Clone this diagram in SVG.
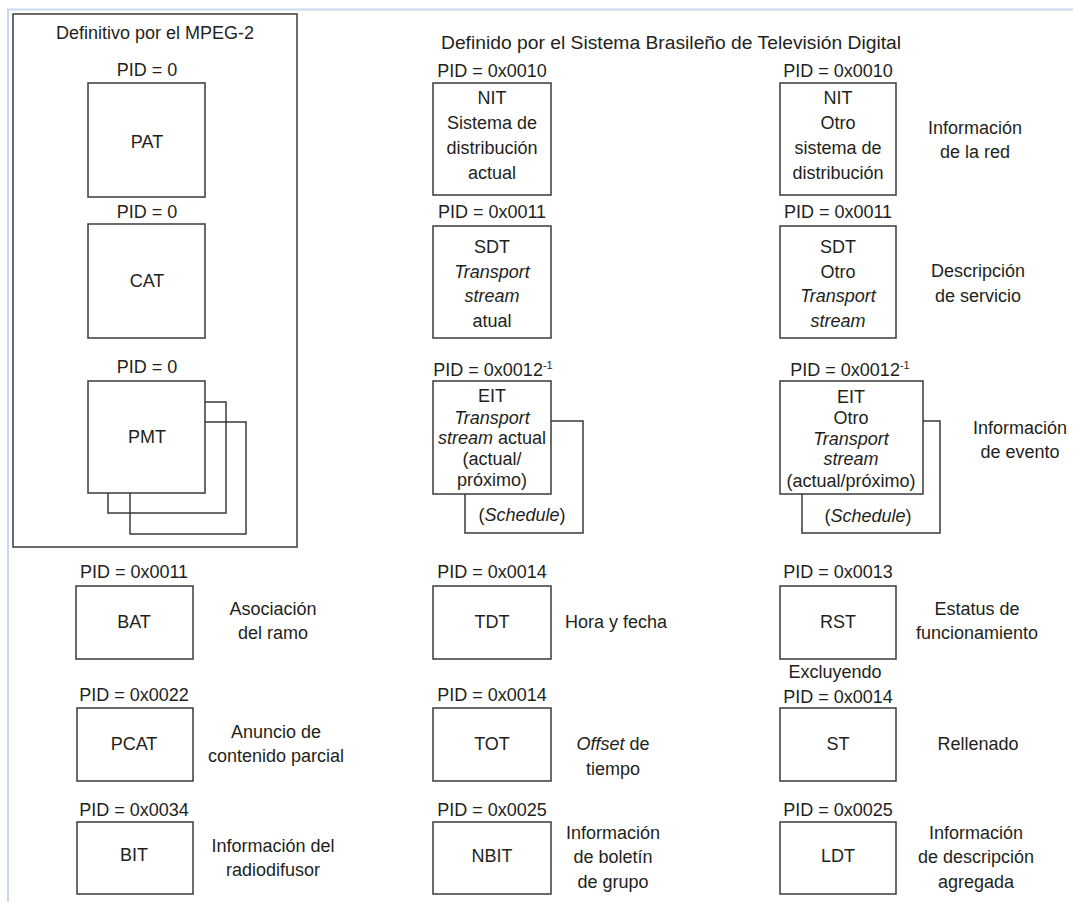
<svg xmlns="http://www.w3.org/2000/svg" width="1074" height="902" viewBox="0 0 1074 902">
  <style>
    .t { font-family: "Liberation Sans", Arial, sans-serif; font-size: 18px; fill: #231f20; text-anchor: middle; }
    .s { text-anchor: start; }
    .i { font-style: italic; }
    .sup { font-size: 11px; }
    .box { fill: #ffffff; stroke: #3a3a3a; stroke-width: 1.5; }
    .layer { fill: none; stroke: #3a3a3a; stroke-width: 1.5; }
    .frame { fill: none; stroke: #c6d9f0; stroke-width: 2; }
  </style>

  <rect width="1074" height="902" fill="#ffffff"/>
  <!-- page frame -->
  <path class="frame" d="M8,902 V9.5 H1073"/>

  <!-- MPEG-2 defined tables -->
  <g id="mpeg2">
    <rect class="layer" x="13" y="14" width="284" height="533"/>
    <text class="t" x="155" y="39">Definitivo por el MPEG-2</text>
  </g>
  <g id="pat">
    <text class="t" x="147" y="76">PID = 0</text>
    <rect class="box" x="88" y="83" width="117" height="114"/>
    <text class="t" x="147" y="148">PAT</text>
  </g>
  <g id="cat">
    <text class="t" x="147" y="218">PID = 0</text>
    <rect class="box" x="88" y="224" width="117" height="114"/>
    <text class="t" x="147" y="287">CAT</text>
  </g>
  <g id="pmt">
    <text class="t" x="147" y="373">PID = 0</text>
    <rect class="layer" x="130" y="422" width="116" height="112"/>
    <rect class="layer" x="108" y="402" width="118" height="111"/>
    <rect class="box" x="88" y="381" width="117" height="112"/>
    <text class="t" x="147" y="443">PMT</text>
  </g>

  <!-- SBTVD defined tables -->
  <text class="t s" x="441" y="49" textLength="460" lengthAdjust="spacingAndGlyphs">Definido por el Sistema Brasileño de Televisión Digital</text>

  <g id="nit-actual">
    <text class="t" x="492" y="77">PID = 0x0010</text>
    <rect class="box" x="433" y="83" width="118" height="112"/>
    <text class="t" x="492" y="104">NIT</text>
    <text class="t" x="492" y="129">Sistema de</text>
    <text class="t" x="492" y="154">distribución</text>
    <text class="t" x="492" y="179">actual</text>
  </g>
  <g id="nit-otro">
    <text class="t" x="838" y="77">PID = 0x0010</text>
    <rect class="box" x="780" y="83" width="116" height="112"/>
    <text class="t" x="838" y="104">NIT</text>
    <text class="t" x="838" y="129">Otro</text>
    <text class="t" x="838" y="154">sistema de</text>
    <text class="t" x="838" y="179">distribución</text>
    <text class="t" x="975" y="134">Información</text>
    <text class="t" x="975" y="158">de la red</text>
  </g>

  <g id="sdt-actual">
    <text class="t" x="492" y="218">PID = 0x0011</text>
    <rect class="box" x="433" y="226" width="118" height="112"/>
    <text class="t" x="492" y="253">SDT</text>
    <text class="t i" x="492" y="278">Transport</text>
    <text class="t i" x="492" y="302">stream</text>
    <text class="t" x="492" y="327">atual</text>
  </g>
  <g id="sdt-otro">
    <text class="t" x="838" y="218">PID = 0x0011</text>
    <rect class="box" x="780" y="226" width="116" height="112"/>
    <text class="t" x="838" y="253">SDT</text>
    <text class="t" x="838" y="278">Otro</text>
    <text class="t i" x="838" y="302">Transport</text>
    <text class="t i" x="838" y="327">stream</text>
    <text class="t" x="978" y="277">Descripción</text>
    <text class="t" x="978" y="302">de servicio</text>
  </g>

  <g id="eit-actual">
    <text class="t" x="493" y="376">PID = 0x0012<tspan class="sup" dy="-7">-1</tspan></text>
    <rect class="layer" x="465" y="421" width="118" height="112"/>
    <rect class="box" x="433" y="381" width="118" height="113"/>
    <text class="t" x="492" y="402">EIT</text>
    <text class="t i" x="492" y="424">Transport</text>
    <text class="t" x="492" y="444"><tspan class="i">stream</tspan> actual</text>
    <text class="t" x="492" y="465">(actual/</text>
    <text class="t" x="492" y="486">próximo)</text>
    <text class="t" x="522" y="521">(<tspan class="i">Schedule</tspan>)</text>
  </g>
  <g id="eit-otro">
    <text class="t" x="850" y="376">PID = 0x0012<tspan class="sup" dy="-7">-1</tspan></text>
    <rect class="layer" x="802" y="421" width="138" height="112"/>
    <rect class="box" x="780" y="381" width="143" height="113"/>
    <text class="t" x="851" y="403">EIT</text>
    <text class="t" x="851" y="424">Otro</text>
    <text class="t i" x="851" y="445">Transport</text>
    <text class="t i" x="851" y="465">stream</text>
    <text class="t" x="851" y="487">(actual/próximo)</text>
    <text class="t" x="868" y="522">(<tspan class="i">Schedule</tspan>)</text>
    <text class="t" x="1020" y="434">Información</text>
    <text class="t" x="1020" y="458">de evento</text>
  </g>

  <!-- row: BAT / TDT / RST -->
  <g id="bat">
    <text class="t" x="134" y="578">PID = 0x0011</text>
    <rect class="box" x="76" y="586" width="117" height="73"/>
    <text class="t" x="134" y="628">BAT</text>
    <text class="t" x="273" y="615">Asociación</text>
    <text class="t" x="273" y="639">del ramo</text>
  </g>
  <g id="tdt">
    <text class="t" x="492" y="578">PID = 0x0014</text>
    <rect class="box" x="433" y="586" width="118" height="73"/>
    <text class="t" x="492" y="628">TDT</text>
    <text class="t" x="616" y="628">Hora y fecha</text>
  </g>
  <g id="rst">
    <text class="t" x="838" y="578">PID = 0x0013</text>
    <rect class="box" x="780" y="586" width="116" height="73"/>
    <text class="t" x="838" y="628">RST</text>
    <text class="t" x="977" y="615">Estatus de</text>
    <text class="t" x="977" y="639">funcionamiento</text>
  </g>

  <!-- row: PCAT / TOT / ST -->
  <g id="pcat">
    <text class="t" x="134" y="701">PID = 0x0022</text>
    <rect class="box" x="77" y="708" width="116" height="73"/>
    <text class="t" x="134" y="750">PCAT</text>
    <text class="t" x="276" y="738">Anuncio de</text>
    <text class="t" x="276" y="762">contenido parcial</text>
  </g>
  <g id="tot">
    <text class="t" x="492" y="701">PID = 0x0014</text>
    <rect class="box" x="433" y="708" width="118" height="73"/>
    <text class="t" x="492" y="750">TOT</text>
    <text class="t" x="613" y="750"><tspan class="i">Offset</tspan> de</text>
    <text class="t" x="613" y="775">tiempo</text>
  </g>
  <g id="st">
    <text class="t" x="835" y="678">Excluyendo</text>
    <text class="t" x="838" y="703">PID = 0x0014</text>
    <rect class="box" x="780" y="708" width="116" height="73"/>
    <text class="t" x="838" y="750">ST</text>
    <text class="t" x="978" y="750">Rellenado</text>
  </g>

  <!-- row: BIT / NBIT / LDT -->
  <g id="bit">
    <text class="t" x="134" y="816">PID = 0x0034</text>
    <rect class="box" x="77" y="822" width="116" height="72"/>
    <text class="t" x="134" y="861">BIT</text>
    <text class="t" x="273" y="852">Información del</text>
    <text class="t" x="273" y="876">radiodifusor</text>
  </g>
  <g id="nbit">
    <text class="t" x="492" y="816">PID = 0x0025</text>
    <rect class="box" x="433" y="822" width="118" height="72"/>
    <text class="t" x="492" y="862">NBIT</text>
    <text class="t" x="613" y="839">Información</text>
    <text class="t" x="613" y="863">de boletín</text>
    <text class="t" x="613" y="888">de grupo</text>
  </g>
  <g id="ldt">
    <text class="t" x="838" y="816">PID = 0x0025</text>
    <rect class="box" x="780" y="822" width="116" height="72"/>
    <text class="t" x="838" y="862">LDT</text>
    <text class="t" x="976" y="839">Información</text>
    <text class="t" x="976" y="863">de descripción</text>
    <text class="t" x="976" y="888">agregada</text>
  </g>

  <!-- no connectors in this figure -->
  <g id="connectors"/>
</svg>
